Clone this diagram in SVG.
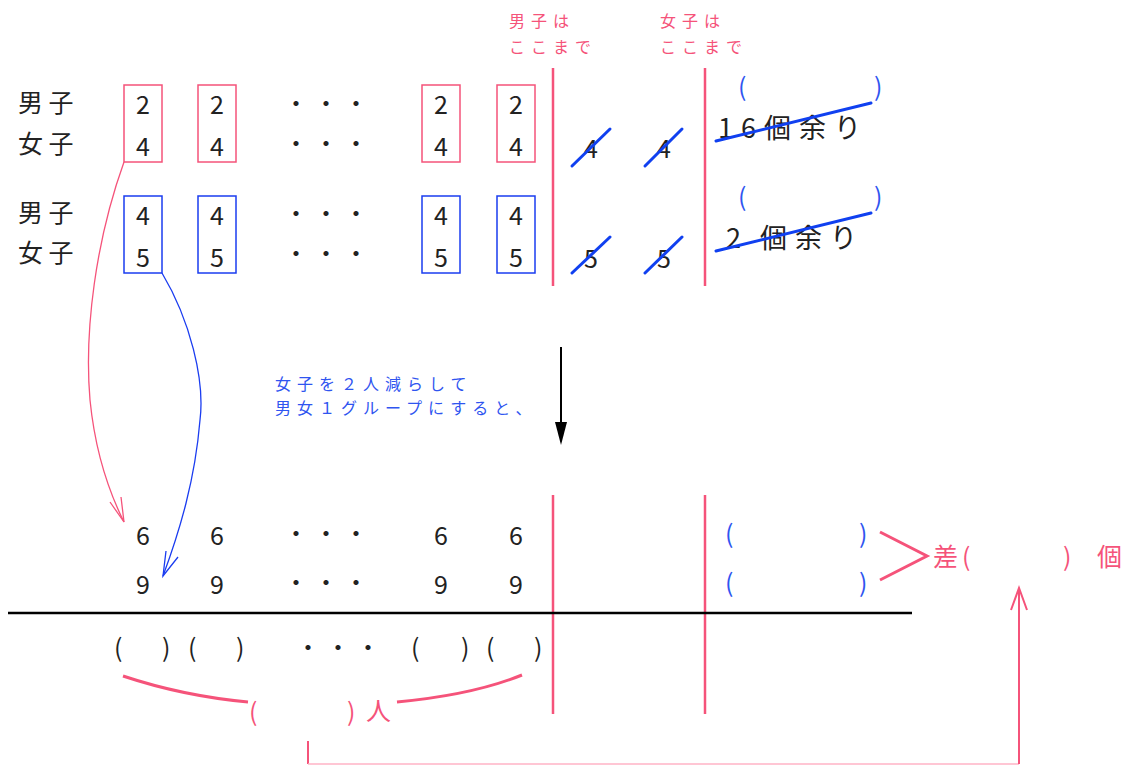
<svg xmlns="http://www.w3.org/2000/svg" width="1124" height="765" viewBox="0 0 1124 765">
<style>
text{font-family:"Noto Sans CJK JP","Noto Sans",sans-serif;}
.t{font-size:25px;fill:#222;}
.lab{font-size:25px;fill:#222;}
.dots{font-size:24px;fill:#222;letter-spacing:6px;}
.pkl{font-size:16px;fill:#f5537a;letter-spacing:6px;}
.bll{font-size:16px;fill:#2f55f0;letter-spacing:6px;}
.pbox{fill:none;stroke:#f5537a;stroke-width:1.5;}
.bbox{fill:none;stroke:#1a3cf0;stroke-width:1.5;}
.vl{stroke:#f5537a;stroke-width:2.5;}
.strike{stroke:#1040f0;stroke-width:3;stroke-linecap:round;}
.rem{font-size:27px;fill:#222;letter-spacing:8px;}
.par{font-size:25px;fill:#222;}
.bpar{font-size:25px;fill:#2f55f0;}
.ppar{font-size:25px;fill:#f5537a;}
</style>
<rect width="1124" height="765" fill="#fff"/>

<g id="header-labels">
<text class="pkl" x="509" y="27">男子は</text>
<text class="pkl" x="509" y="53">ここまで</text>
<text class="pkl" x="660" y="27">女子は</text>
<text class="pkl" x="660" y="53">ここまで</text>
</g>

<g id="row-labels">
<text class="lab" x="18" y="112">男 子</text>
<text class="lab" x="18" y="153">女 子</text>
<text class="lab" x="18" y="222">男 子</text>
<text class="lab" x="18" y="262">女 子</text>
</g>

<g id="pink-boxes">
<rect class="pbox" x="124" y="85" width="38" height="77"/>
<rect class="pbox" x="198" y="85" width="38" height="77"/>
<rect class="pbox" x="422" y="85" width="38" height="77"/>
<rect class="pbox" x="497" y="85" width="38" height="77"/>
<g class="t" text-anchor="middle">
<text x="143" y="114">2</text><text x="143" y="156">4</text>
<text x="217" y="114">2</text><text x="217" y="156">4</text>
<text x="441" y="114">2</text><text x="441" y="156">4</text>
<text x="516" y="114">2</text><text x="516" y="156">4</text>
</g>
<text class="dots" x="284" y="112">・・・</text><text class="dots" x="284" y="152">・・・</text>
</g>

<g id="blue-boxes">
<rect class="bbox" x="124" y="196" width="38" height="77"/>
<rect class="bbox" x="198" y="196" width="38" height="77"/>
<rect class="bbox" x="422" y="196" width="38" height="77"/>
<rect class="bbox" x="497" y="196" width="38" height="77"/>
<g class="t" text-anchor="middle">
<text x="143" y="225">4</text><text x="143" y="267">5</text>
<text x="217" y="225">4</text><text x="217" y="267">5</text>
<text x="441" y="225">4</text><text x="441" y="267">5</text>
<text x="516" y="225">4</text><text x="516" y="267">5</text>
</g>
<text class="dots" x="284" y="222">・・・</text><text class="dots" x="284" y="262">・・・</text>
</g>

<g id="dividers">
<line class="vl" x1="553" y1="68" x2="553" y2="286"/>
<line class="vl" x1="705" y1="68" x2="705" y2="286"/>
<line class="vl" x1="553" y1="495" x2="553" y2="714"/>
<line class="vl" x1="705" y1="495" x2="705" y2="714"/>
<line x1="8" y1="613" x2="912" y2="613" stroke="#000" stroke-width="2.5"/>
</g>

<g id="crossed-out">
<g class="t" text-anchor="middle">
<text x="591" y="158">4</text><text x="664" y="158">4</text>
<text x="591" y="268">5</text><text x="664" y="268">5</text>
</g>
<line class="strike" x1="572" y1="166" x2="610" y2="129"/>
<line class="strike" x1="645" y1="166" x2="682" y2="129"/>
<line class="strike" x1="572" y1="273" x2="610" y2="237"/>
<line class="strike" x1="645" y1="273" x2="682" y2="237"/>
</g>

<g id="remainder-top">
<text class="bpar" x="738" y="96">(</text>
<text class="bpar" x="874" y="96">)</text>
<text class="rem" x="718" y="138">16個余り</text>
<line class="strike" x1="716" y1="141" x2="871" y2="103"/>
</g>
<g id="remainder-bottom">
<text class="bpar" x="738" y="206">(</text>
<text class="bpar" x="874" y="206">)</text>
<text class="rem" x="726" y="248">2<tspan x="760">個余り</tspan></text>
<line class="strike" x1="716" y1="251" x2="871" y2="213"/>
</g>

<g id="note">
<text class="bll" x="275" y="390">女子を２人減らして</text>
<text class="bll" x="275" y="414">男女１グループにすると、</text>
</g>

<g id="result-rows">
<g class="t" text-anchor="middle">
<text x="143" y="545">6</text><text x="217" y="545">6</text><text x="441" y="545">6</text><text x="516" y="545">6</text>
<text x="143" y="594">9</text><text x="217" y="594">9</text><text x="441" y="594">9</text><text x="516" y="594">9</text>
</g>
<text class="dots" x="284" y="542">・・・</text><text class="dots" x="284" y="591">・・・</text>
<text class="bpar" x="725" y="543">(</text><text class="bpar" x="859" y="543">)</text>
<text class="bpar" x="725" y="592">(</text><text class="bpar" x="859" y="592">)</text>
</g>

<g id="group-parens">
<g class="par">
<text x="114" y="657">(</text><text x="162" y="657">)</text>
<text x="188" y="657">(</text><text x="236" y="657">)</text>
<text x="411" y="657">(</text><text x="461" y="657">)</text>
<text x="486" y="657">(</text><text x="534" y="657">)</text>
</g>
<text class="dots" x="296" y="656">・・・</text>
</g>

<g id="total-people">
<text class="ppar" x="249" y="721">(</text>
<text class="ppar" x="347" y="721">)</text>
<text class="ppar" x="366" y="720">人</text>
</g>

<g id="difference">
<text class="ppar" x="933" y="566">差</text>
<text class="ppar" x="962" y="566">(</text>
<text class="ppar" x="1063" y="566">)</text>
<text class="ppar" x="1097" y="566">個</text>
</g>

<g id="connectors" fill="none">
<path d="M124,162 C96,240 84,330 90,400 C95,450 108,490 124,522" stroke="#f5537a" stroke-width="1.3"/>
<path d="M110,502 L124,522 L121,497" stroke="#f5537a" stroke-width="1.3"/>
<path d="M162,273 C190,320 205,380 200,420 C195,480 180,530 163,576" stroke="#1a3cf0" stroke-width="1.3"/>
<path d="M166,551 L163,576 L178,557" stroke="#1a3cf0" stroke-width="1.3"/>
<line x1="561" y1="347" x2="561" y2="432" stroke="#000" stroke-width="2"/>
<path d="M555,422 L561,445 L567,422 z" fill="#000"/>
<path d="M123,676 C165,690 205,698 248,702" stroke="#f5537a" stroke-width="3"/>
<path d="M397,702 C440,698 485,690 522,675" stroke="#f5537a" stroke-width="3"/>
<path d="M880,532 L927,556 L880,580" stroke="#f5537a" stroke-width="3"/>
<line x1="308" y1="741" x2="308" y2="764" stroke="#f5537a" stroke-width="2"/>
<line x1="308" y1="764" x2="1019" y2="764" stroke="#ffb3c6" stroke-width="1.5"/>
<line x1="1019" y1="764" x2="1019" y2="590" stroke="#f5537a" stroke-width="2"/>
<path d="M1011,610 L1019,588 L1027,610" stroke="#f5537a" stroke-width="2"/>
</g>
</svg>
